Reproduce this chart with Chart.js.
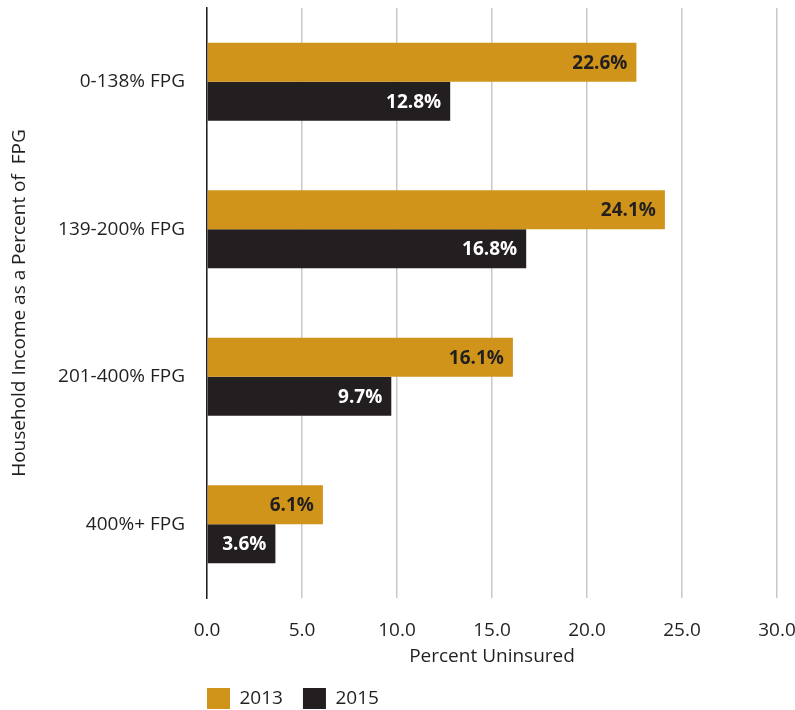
<!DOCTYPE html>
<html>
<head>
<meta charset="utf-8">
<script src="https://cdn.jsdelivr.net/npm/chart.js@4.4.0/dist/chart.umd.min.js"></script>
<style>
  html, body { margin: 0; padding: 0; background: #fff; }
  #wrap { width: 795px; height: 710px; position: relative; }
</style>
</head>
<body>
<div id="wrap"><canvas id="chart"></canvas></div>
<script>
const categories = ['0-138% FPG', '139-200% FPG', '201-400% FPG', '400%+ FPG'];
const years = ['2013', '2015'];
const uninsured2013 = [22.6, 24.1, 16.1, 6.1];
const uninsured2015 = [12.8, 16.8, 9.7, 3.6];
const xTicks = [0, 5, 10, 15, 20, 25, 30];

const GOLD = '#CF9419';
const DARK = '#231F20';
const FONT = "'Open Sans', sans-serif";

// draws the value at the inner end of each bar
const barLabels = {
  id: 'barLabels',
  afterDatasetsDraw(chart) {
    const ctx = chart.ctx;
    ctx.save();
    ctx.font = 'bold 19px ' + FONT;
    ctx.textAlign = 'right';
    ctx.textBaseline = 'middle';
    chart.data.datasets.forEach((ds, i) => {
      const meta = chart.getDatasetMeta(i);
      ctx.fillStyle = i === 0 ? DARK : '#ffffff';
      meta.data.forEach((bar, j) => {
        ctx.fillText(ds.data[j].toFixed(1) + '%', bar.x - 9, bar.y + 1);
      });
    });
    ctx.restore();
  }
};

// legend starts flush with the y axis instead of one padding further right
const legendShift = {
  id: 'legendShift',
  afterLayout(chart) {
    const lg = chart.legend;
    lg.left = chart.chartArea.left - lg.options.labels.padding;
  }
};

const ctx = document.getElementById('chart').getContext('2d');
new Chart(ctx, {
  type: 'bar',
  data: {
    labels: categories,
    datasets: [{
      label: years[0],
      data: uninsured2013,
      backgroundColor: GOLD,
      barPercentage: 1,
      categoryPercentage: 0.53
    }, {
      label: years[1],
      data: uninsured2015,
      backgroundColor: DARK,
      barPercentage: 1,
      categoryPercentage: 0.53
    }]
  },
  options: {
    indexAxis: 'y',
    responsive: true,
    maintainAspectRatio: false,
    animation: false,
    layout: { padding: { left: 8, right: 0, top: 8, bottom: -9 } },
    scales: {
      x: {
        min: 0,
        max: 30,
        afterBuildTicks: (scale) => { scale.ticks = xTicks.map(v => ({ value: v })); },
        afterFit: (scale) => {
          scale.height = 70;
          scale.paddingRight = 18;
        },
        ticks: {
          callback: (v) => Number(v).toFixed(1),
          font: { family: FONT, size: 19 },
          color: DARK,
          padding: 21,
          maxRotation: 0
        },
        grid: { color: '#c8c8c8', lineWidth: 1.5, drawTicks: false, tickLength: 0 },
        border: { display: false },
        title: {
          display: true,
          text: 'Percent Uninsured',
          font: { family: FONT, size: 19 },
          color: DARK,
          padding: { top: 4, bottom: 0 }
        }
      },
      y: {
        afterFit: (scale) => {
          scale.width = 199;
          scale.paddingTop = 0;
          scale.paddingBottom = 0;
        },
        ticks: {
          font: { family: FONT, size: 19 },
          color: DARK,
          padding: 22
        },
        grid: { display: false, drawTicks: false, tickLength: 0 },
        border: { display: true, color: DARK, width: 1.5 },
        title: {
          display: true,
          text: 'Household Income as a Percent of  FPG',
          font: { family: FONT, size: 19 },
          color: DARK,
          padding: { top: 0, bottom: 0 }
        }
      }
    },
    plugins: {
      legend: {
        position: 'bottom',
        align: 'start',
        fullSize: false,
        labels: {
          boxWidth: 23,
          boxHeight: 21,
          padding: 20,
          color: DARK,
          font: { family: FONT, size: 19 }
        }
      },
      tooltip: { enabled: false }
    }
  },
  plugins: [barLabels, legendShift]
});
</script>
</body>
</html>
